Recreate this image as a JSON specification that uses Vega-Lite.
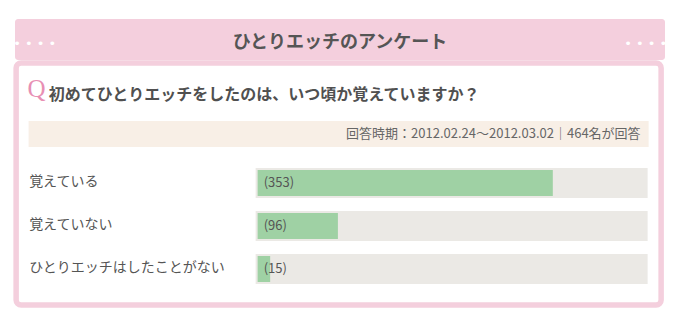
{
  "$schema": "https://vega.github.io/schema/vega-lite/v6.json",
  "background": "white",
  "padding": {"left": 13, "top": 19, "right": 0, "bottom": 0},
  "config": {"font": "Noto Sans CJK JP", "view": {"stroke": null}},
  "spacing": 0,
  "center": true,
  "datasets": {
    "header": [{"title": "ひとりエッチのアンケート"}],
    "question": [{"row": "q", "text": "初めてひとりエッチをしたのは、いつ頃か覚えていますか？"}],
    "period": [{"row": "p", "text": "回答時期：2012.02.24～2012.03.02｜464名が回答"}],
    "answers": [
      {"answer": "覚えている", "count": 353, "total": 464, "label": "(353)"},
      {"answer": "覚えていない", "count": 96, "total": 464, "label": "(96)"},
      {"answer": "ひとりエッチはしたことがない", "count": 15, "total": 464, "label": "(15)"}
    ]
  },
  "vconcat": [
    {
      "width": 650,
      "height": 41,
      "view": {"fill": "#f4cfdd", "stroke": null, "cornerRadius": 3},
      "data": {"name": "header"},
      "layer": [
        {
          "mark": {"type": "text", "fontSize": 18, "fontWeight": "bold", "color": "#555555", "baseline": "middle", "dy": 3.5},
          "encoding": {"text": {"field": "title", "type": "nominal"}}
        },
        {
          "mark": {"type": "text", "text": "• • • •", "font": "DejaVu Sans", "fontSize": 13, "color": "white", "baseline": "middle", "dx": -305.25, "dy": 4.5, "clip": true},
          "encoding": {}
        },
        {
          "mark": {"type": "text", "text": "• • • •", "font": "DejaVu Sans", "fontSize": 13, "color": "white", "baseline": "middle", "dx": 305.75, "dy": 4.5, "clip": true},
          "encoding": {}
        }
      ]
    },
    {
      "width": 645,
      "height": 242,
      "view": {"fill": "white", "stroke": "#f4cfdd", "strokeWidth": 5.5, "cornerRadius": 5},
      "layer": [
        {
          "layer": [
            {
              "data": {"name": "period"},
              "mark": {"type": "rect", "color": "#f8efe6"},
              "encoding": {
                "x": {"datum": 467.6, "type": "quantitative", "scale": {"domain": [0, 464], "range": [241.5, 629.5], "zero": false, "nice": false}, "axis": null},
                "x2": {"datum": -273.9},
                "y": {"field": "row", "type": "nominal", "scale": {"domain": ["q", "p"], "range": [15.5, 89.5], "paddingInner": 0.297, "paddingOuter": 0.1486}, "axis": null}
              }
            },
            {
              "data": {"name": "period"},
              "mark": {"type": "text", "align": "right", "baseline": "middle", "fontSize": 13, "color": "#666666"},
              "encoding": {
                "x": {"datum": 458, "type": "quantitative"},
                "y": {"field": "row", "type": "nominal"},
                "text": {"field": "text", "type": "nominal"}
              }
            },
            {
              "data": {"name": "question"},
              "mark": {"type": "text", "text": "Q", "font": "Liberation Serif", "fontSize": 25, "color": "#e88fb4", "align": "left", "baseline": "alphabetic", "dy": 0},
              "encoding": {
                "x": {"datum": -275.1, "type": "quantitative"},
                "y": {"field": "row", "type": "nominal"}
              }
            },
            {
              "data": {"name": "question"},
              "mark": {"type": "text", "align": "left", "baseline": "middle", "fontSize": 16, "fontWeight": "bold", "color": "#505050", "dy": -2},
              "encoding": {
                "x": {"datum": -249.9, "type": "quantitative"},
                "y": {"field": "row", "type": "nominal"},
                "text": {"field": "text", "type": "nominal"}
              }
            }
          ]
        },
        {
          "data": {"name": "answers"},
          "encoding": {
            "y": {
              "field": "answer",
              "type": "nominal",
              "sort": null,
              "scale": {"domain": ["覚えている", "覚えていない", "ひとりエッチはしたことがない"], "range": [98.5, 227.5], "paddingInner": 0.3953, "paddingOuter": 0.19767},
              "axis": {"orient": "left", "title": null, "domain": false, "ticks": false, "tickSize": 0, "labelAlign": "left", "labelPadding": -12.5, "labelFontSize": 14, "labelColor": "#555555", "labelLimit": 400, "labelOverlap": false, "labelOffset": -1, "minExtent": 0, "grid": false}
            }
          },
          "layer": [
            {
              "mark": {"type": "bar", "color": "#ebe9e5", "stroke": "#ebe9e5", "strokeWidth": 4},
              "encoding": {
                "x": {"field": "total", "type": "quantitative"}
              }
            },
            {
              "mark": {"type": "bar", "color": "#9fd1a4"},
              "encoding": {
                "x": {"field": "count", "type": "quantitative"}
              }
            },
            {
              "mark": {"type": "text", "align": "left", "baseline": "middle", "fontSize": 13, "color": "#555555", "dx": 6},
              "encoding": {
                "x": {"datum": 0, "type": "quantitative"},
                "text": {"field": "label", "type": "nominal"}
              }
            }
          ]
        }
      ],
      "resolve": {"scale": {"y": "independent"}}
    }
  ]
}
